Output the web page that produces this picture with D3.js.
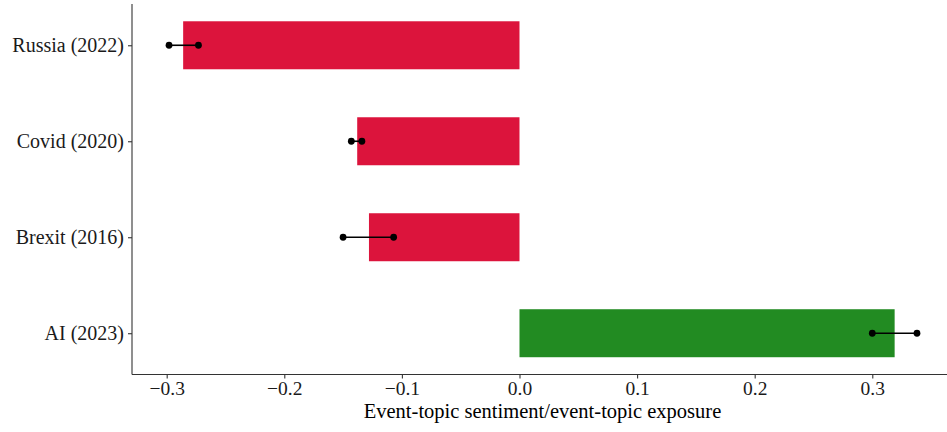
<!DOCTYPE html>
<html>
<head>
<meta charset="utf-8">
<script src="https://cdn.jsdelivr.net/npm/d3@7"></script>
<style>
  html, body { margin: 0; padding: 0; background: #fff; }
  svg { display: block; }
  text { font-family: "Liberation Serif", "Times New Roman", serif; }
</style>
</head>
<body>
<svg id="chart" width="947" height="432"></svg>
<script>
// Event topics, top to bottom
const events = ["Russia (2022)", "Covid (2020)", "Brexit (2016)", "AI (2023)"];
// Ratio of event-topic sentiment to event-topic exposure
const ratio = [-0.286, -0.138, -0.128, 0.319];
// Interval end points shown as connected dots
const lowEnd = [-0.298, -0.143, -0.150, 0.300];
const highEnd = [-0.273, -0.134, -0.107, 0.338];
const xTicks = [-0.3, -0.2, -0.1, 0.0, 0.1, 0.2, 0.3];

const svg = d3.select("#chart");
const W = 947, H = 432;
const plotLeft = 132, plotBottom = 374.5, plotTop = 4;

const x = d3.scaleLinear().domain([-0.3295, 0.3650]).range([plotLeft, plotLeft + 0.6945 * 1176]);
const y = d3.scalePoint().domain(events).range([plotTop, plotBottom]).padding(0.43);
const barH = y.step() * 0.5;

const rows = events.map((e, i) => ({ e, v: ratio[i], lo: lowEnd[i], hi: highEnd[i] }));

// bars
svg.append("g").selectAll("rect").data(rows).join("rect")
  .attr("x", d => x(Math.min(0, d.v)))
  .attr("width", d => Math.abs(x(d.v) - x(0)))
  .attr("y", d => y(d.e) - barH / 2)
  .attr("height", barH)
  .attr("fill", d => d.v < 0 ? "#DC143C" : "#228B22");

// interval segments and end dots
const iv = svg.append("g");
iv.selectAll("line").data(rows).join("line")
  .attr("x1", d => x(d.lo)).attr("x2", d => x(d.hi))
  .attr("y1", d => y(d.e)).attr("y2", d => y(d.e))
  .attr("stroke", "#000").attr("stroke-width", 1.6);
iv.selectAll("circle").data(rows.flatMap(d => [{ e: d.e, v: d.lo }, { e: d.e, v: d.hi }])).join("circle")
  .attr("cx", d => x(d.v)).attr("cy", d => y(d.e)).attr("r", 3.4).attr("fill", "#000");

// axes
const xAxis = svg.append("g").attr("transform", `translate(0,${plotBottom})`)
  .call(d3.axisBottom(x).tickValues(xTicks).tickFormat(d => d3.format(".1f")(d).replace("-", "\u2212")).tickSizeOuter(0).tickSize(4).tickPadding(3));
xAxis.select(".domain").attr("d", `M${plotLeft},0H${W}`).attr("stroke", "#333").attr("stroke-width", 1.1);
xAxis.selectAll(".tick line").attr("stroke", "#333").attr("stroke-width", 1.1);
xAxis.selectAll(".tick text").attr("font-size", 19.5).attr("fill", "#1a1a1a")
  .attr("font-family", "'Liberation Serif', serif");

const yAxis = svg.append("g").attr("transform", `translate(${plotLeft},0)`)
  .call(d3.axisLeft(y).tickSizeOuter(0).tickSize(4).tickPadding(4));
yAxis.select(".domain").attr("d", `M0,${plotTop}V${plotBottom}`).attr("stroke", "#333").attr("stroke-width", 1.1);
yAxis.selectAll(".tick line").attr("stroke", "#333").attr("stroke-width", 1.1);
yAxis.selectAll(".tick text").attr("font-size", 20).attr("fill", "#1a1a1a")
  .attr("font-family", "'Liberation Serif', serif");

// axis title
svg.append("text")
  .attr("x", (plotLeft + W) / 2 + 3).attr("y", 418)
  .attr("text-anchor", "middle").attr("font-size", 20.5).attr("fill", "#000")
  .text("Event-topic sentiment/event-topic exposure");
</script>
</body>
</html>
